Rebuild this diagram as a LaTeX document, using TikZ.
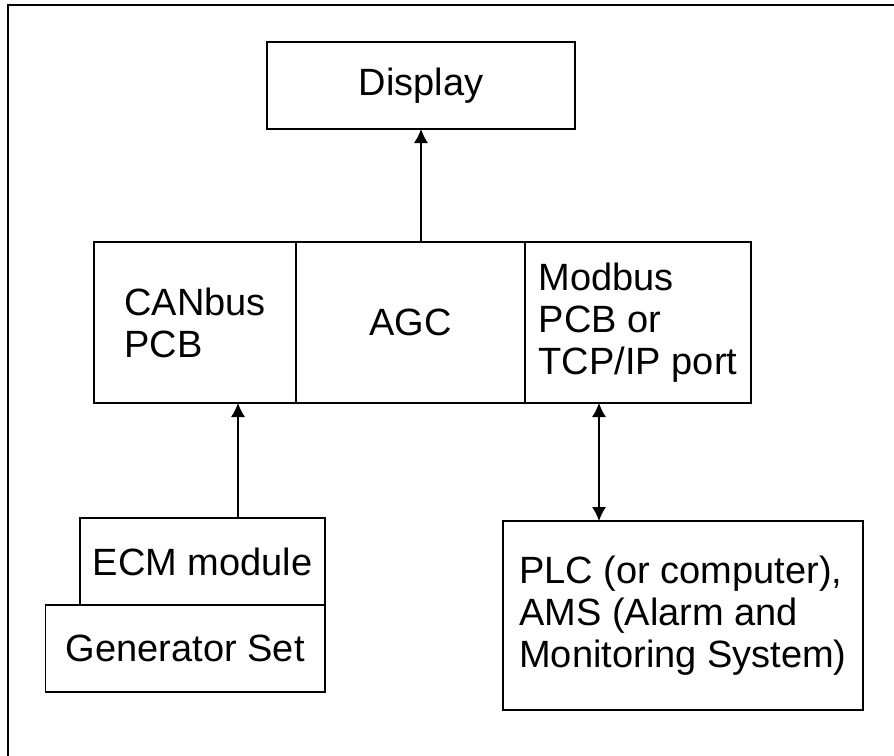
\documentclass[tikz,border=0pt]{standalone}
\usepackage{fontspec}
\setmainfont{Liberation Sans}
\usepackage{tikz}
\usetikzlibrary{arrows.meta,positioning}

\begin{document}
\begin{tikzpicture}[x=0.5pt,y=-0.5pt,
							every node/.style={font=\fontsize{19}{21}\selectfont},
							block/.style={rectangle,draw,line width=0.8pt,outer sep=0pt,align=left,inner sep=0pt},
							link/.style={line width=0.6pt,-{Latex[length=7pt,width=7pt]}},
							>={Latex[length=7pt,width=7pt]}]
		\useasboundingbox (0,0) rectangle (894,755);
		% outer frame, only top and left edge show
		\draw[line width=1.4pt] (8,760) -- (8,5) -- (900,5);

		\node[block,minimum width=154pt,minimum height=43.5pt] (display) at (421,85.5) {Display};

		% the controller with its two interface boards
		\node[block,minimum width=101.25pt,minimum height=80.5pt] (canbus) at (195,322.5) {CANbus\\PCB};
		\node[block,minimum width=114.25pt,minimum height=80.5pt,right=0pt of canbus] (agc) {AGC};
		\node[block,minimum width=113.25pt,minimum height=80.5pt,right=0pt of agc] (modbus) {Modbus\\PCB or\\TCP/IP port};

		% engine side
		\node[block,minimum width=122.5pt,minimum height=43.5pt] (ecm) at (202.5,561.5) {ECM module};
		\node[block,minimum width=139.7pt,minimum height=43.5pt,anchor=north east] (genset) at (ecm.south east) {Generator Set};

		\node[block,minimum width=180pt,minimum height=94.5pt] (plc) at (683,615.5) {PLC (or computer),\\AMS (Alarm and\\Monitoring System)};

		\draw[link] (display.south |- agc.north) -- (display.south);
		\draw[link] ([xshift=17.75pt]ecm.north) -- ([xshift=17.75pt]ecm.north |- canbus.south);
		\draw[link,<->] ([xshift=-42pt]plc.north) -- ([xshift=-42pt]plc.north |- modbus.south);
\end{tikzpicture}
\end{document}
